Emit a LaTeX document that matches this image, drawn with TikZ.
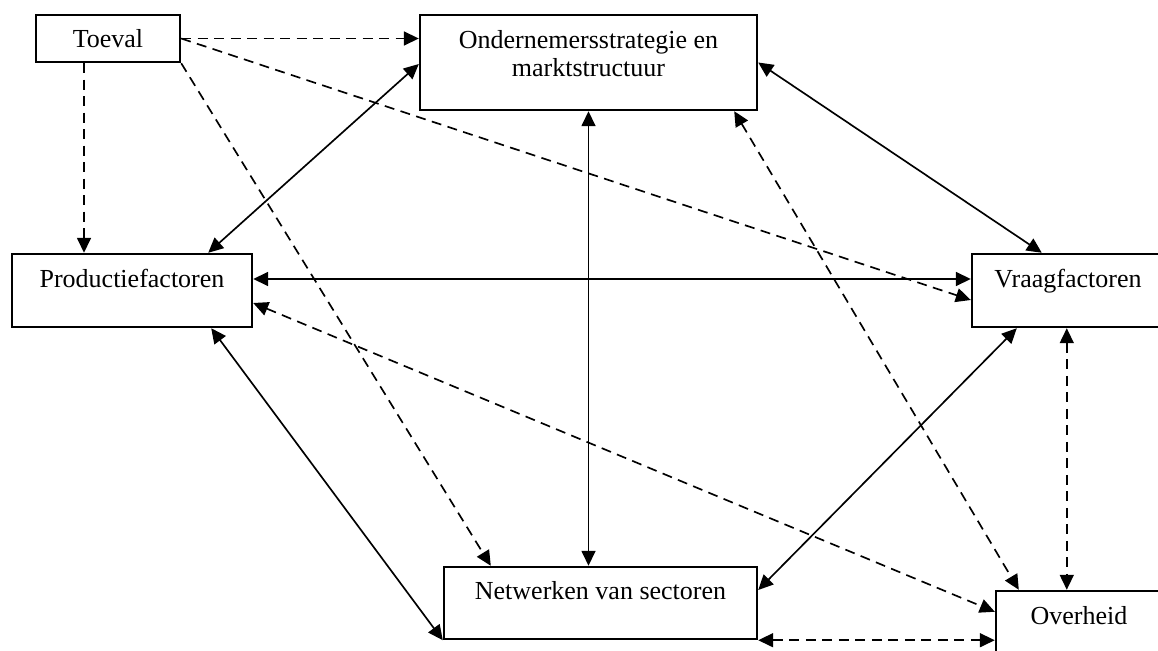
\documentclass[tikz,border=0pt]{standalone}
\usepackage{fontspec}
\setmainfont{Liberation Serif}
\usetikzlibrary{arrows.meta}
\tikzset{
  box/.style={draw, line width=1.4pt, inner sep=0pt},
  lbl/.style={anchor=base, font=\fontsize{14.8}{16.5}\selectfont, inner sep=0pt, align=center},
  one/.style={line width=0.95pt, -{Triangle[length=0.3cm,width=0.28cm]}},
  two/.style={line width=0.95pt, {Triangle[length=0.3cm,width=0.28cm]}-{Triangle[length=0.3cm,width=0.28cm]}},
  dsh/.style={dash pattern=on 0.2cm off 0.13cm}
}
\begin{document}
\begin{tikzpicture}[x=0.02cm,y=-0.02cm]
\useasboundingbox (0,0) rectangle (1158,651);
\clip (0,0) rectangle (1158,651);
% boxes
\node[box, minimum width=2.88cm, minimum height=0.94cm] (toeval) at (108,38.5) {};
\node[box, minimum width=6.74cm, minimum height=1.90cm] (ond) at (588.5,62.5) {};
\node[box, minimum width=4.80cm, minimum height=1.46cm] (prod) at (132,290.5) {};
\node[box, minimum width=3.84cm, minimum height=1.46cm] (vraag) at (1068,290.5) {};
\node[box, minimum width=6.26cm, minimum height=1.44cm] (netw) at (600.5,603) {};
\node[box, minimum width=3.32cm, minimum height=1.58cm] (overh) at (1079,630.5) {};
% texts
\node[lbl] (toevalT) at (108,48) {Toeval};
\node[lbl] (ondT) at (588.5,77) {Ondernemersstrategie en\\marktstructuur};
\node[lbl] (prodT) at (132,288) {Productiefactoren};
\node[lbl] (vraagT) at (1068,288) {Vraagfactoren};
\node[lbl] (netwT) at (600.5,599) {Netwerken van sectoren};
\node[lbl] (overhT) at (1079,624) {Overheid};
% connectors from Toeval (dashed, one head)
\draw[one,dsh] (toeval.east) -- (ond.west |- toeval.east);
\draw[one,dsh] ([xshift=-0.48cm]toeval.south) -- ([xshift=-0.48cm]toeval.south |- prod.north);
\draw[one,dsh] (toeval.east) -- ([yshift=-0.19cm]vraag.west);
\draw[one,dsh] (toeval.south east) -- ([xshift=0.96cm]netw.north west);
% solid double
\draw[two] ([xshift=-0.9cm]prod.north east) -- ([yshift=-0.03cm]ond.west);
\draw[two] (ond.south) -- (ond.south |- netw.north);
\draw[two] (ond.east) -- ([xshift=1.42cm]vraag.north west);
\draw[two] ([yshift=0.23cm]prod.east) -- ([yshift=0.23cm]vraag.west);
\draw[two] ([xshift=-0.84cm]prod.south east) -- (netw.south west);
\draw[two] ([xshift=0.92cm]vraag.south west) -- ([yshift=0.26cm]netw.east);
% dashed double
\draw[two,dsh] ([xshift=-0.48cm]ond.south east) -- ([xshift=0.48cm]overh.north west);
\draw[two,dsh] ([yshift=-0.25cm]prod.east) -- ([yshift=-0.44cm]overh.north west);
\draw[two,dsh] ([xshift=1.92cm]vraag.south west) -- ([xshift=1.92cm]vraag.south west |- overh.north);
\draw[two,dsh] (netw.south east) -- (overh.west |- netw.south east);
\end{tikzpicture}
\end{document}
